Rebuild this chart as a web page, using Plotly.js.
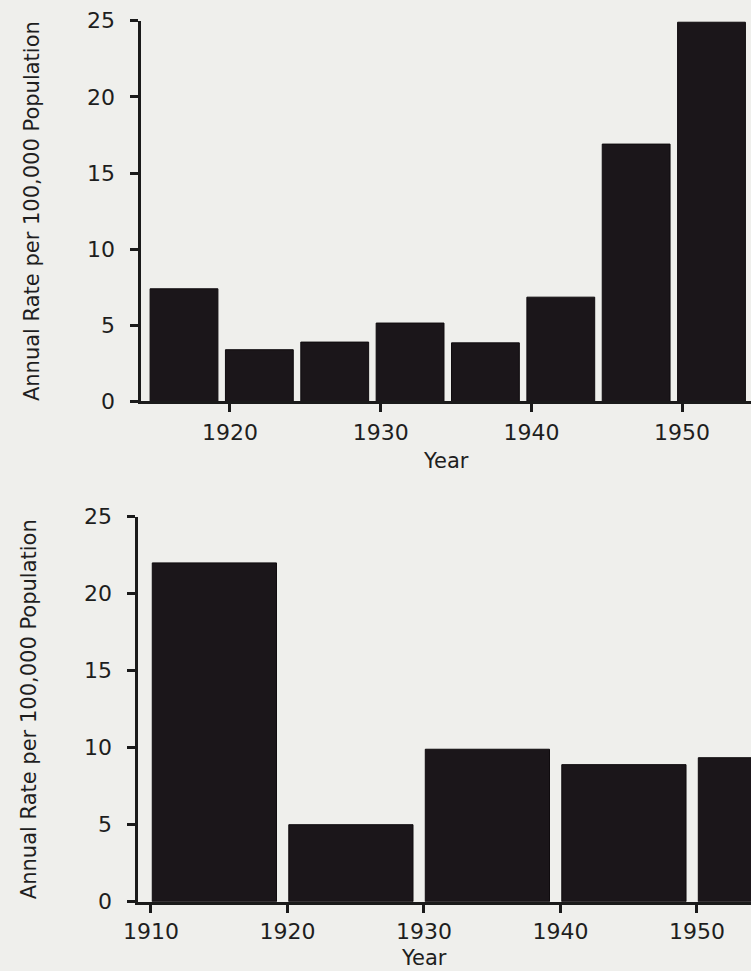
<!DOCTYPE html>
<html>
<head>
<meta charset="utf-8">
<script src="https://cdn.plot.ly/plotly-3.0.1.min.js"></script>
<style>
  html, body { margin: 0; padding: 0; background: #efefec; }
  #chart { width: 751px; height: 971px; }
</style>
</head>
<body>
<div id="chart"></div>
<script>
// Upper panel: five-year periods (start year) and annual rates
const fiveYearStarts = [1915, 1920, 1925, 1930, 1935, 1940, 1945, 1950];
const fiveYearRates  = [7.4, 3.4, 3.9, 5.15, 3.85, 6.85, 16.9, 24.9];
const upperTicks     = [1920, 1930, 1940, 1950];

// Lower panel: ten-year periods (start year) and annual rates
const decadeStarts = [1910, 1920, 1930, 1940, 1950];
const decadeRates  = [22.0, 5.0, 9.9, 8.9, 9.35];
const lowerTicks   = [1910, 1920, 1930, 1940, 1950];

const rateTicks  = [0, 5, 10, 15, 20, 25];
const yTitle = 'Annual Rate per 100,000 Population';
const xTitle = 'Year';

const ink = '#1b161a';
const font = 'DejaVu Sans, Liberation Sans, Arial, sans-serif';
const textColor = '#1e1e1e';

const traces = [
  {
    type: 'bar', x: fiveYearStarts, y: fiveYearRates,
    offset: -0.3, width: 4.5,
    xaxis: 'x', yaxis: 'y',
    marker: { color: ink, line: { color: '#0f0b0e', width: 1 } },
    hoverinfo: 'x+y'
  },
  {
    type: 'bar', x: decadeStarts, y: decadeRates,
    offset: 0.1, width: 9.1,
    xaxis: 'x2', yaxis: 'y2',
    marker: { color: ink, line: { color: '#0f0b0e', width: 1 } },
    hoverinfo: 'x+y'
  }
];

const axisStyle = {
  showgrid: false, zeroline: false, showline: true,
  linecolor: '#1a1a1a', linewidth: 3,
  ticks: 'outside', ticklen: 8, tickwidth: 3, tickcolor: '#1a1a1a',
  tickfont: { family: font, size: 22, color: textColor }
};

const layout = {
  width: 751, height: 971,
  margin: { l: 0, r: 0, t: 0, b: 0 },
  paper_bgcolor: '#efefec', plot_bgcolor: '#efefec',
  showlegend: false,
  bargap: 0,
  xaxis: Object.assign({}, axisStyle, {
    domain: [0.1884, 1], range: [1914.13, 1954.57],
    tickmode: 'array', tickvals: upperTicks,
    ticklabelstandoff: 1,
    anchor: 'y',
    title: { text: xTitle, font: { family: font, size: 21, color: textColor }, standoff: 10 }
  }),
  yaxis: Object.assign({}, axisStyle, {
    domain: [0.58651, 0.97868], range: [0, 25],
    tickmode: 'array', tickvals: rateTicks,
    ticklabelstandoff: 11,
    anchor: 'x',
    title: { text: yTitle, font: { family: font, size: 21, color: textColor }, standoff: 42 }
  }),
  xaxis2: Object.assign({}, axisStyle, {
    domain: [0.1844, 1], range: [1909.09, 1953.96],
    tickmode: 'array', tickvals: lowerTicks,
    ticklabelstandoff: 0,
    anchor: 'y2'
  }),
  yaxis2: Object.assign({}, axisStyle, {
    domain: [0.07137, 0.46787], range: [0, 25],
    tickmode: 'array', tickvals: rateTicks,
    ticklabelstandoff: 11,
    anchor: 'x2',
    title: { text: yTitle, font: { family: font, size: 21, color: textColor }, standoff: 42 }
  }),
  annotations: [
    {
      text: xTitle, xref: 'x2', x: 1930, yref: 'paper', y: 0,
      xanchor: 'center', yanchor: 'bottom', showarrow: false, borderpad: 0,
      font: { family: font, size: 21, color: textColor }
    }
  ]
};

Plotly.newPlot('chart', traces, layout, { staticPlot: true, displayModeBar: false });
</script>
</body>
</html>
